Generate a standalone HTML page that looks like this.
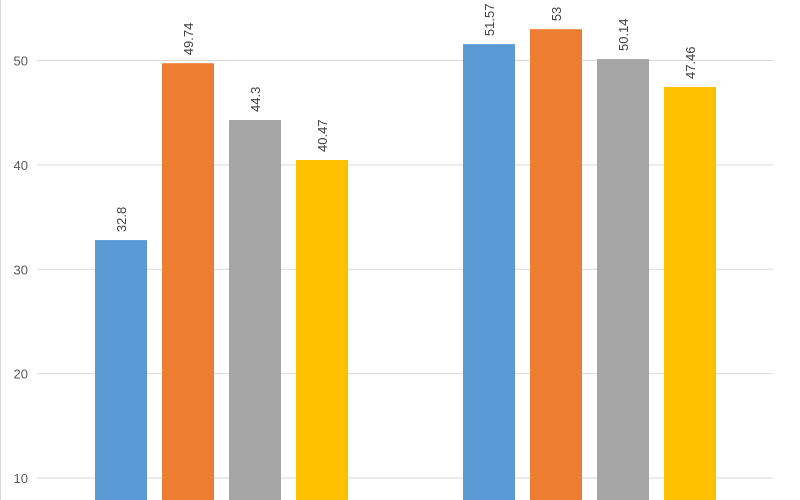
<!DOCTYPE html>
<html><head><meta charset="utf-8"><style>
html,body{margin:0;padding:0;background:#fff;}
svg{display:block;font-family:"Liberation Sans",sans-serif;}
</style></head><body>
<svg id="chart" width="800" height="500" viewBox="0 0 800 500">
<rect x="0.5" y="-2" width="810" height="510" fill="#fff" stroke="#d9d9d9"/>
<g id="grid"></g><g id="bars"></g><g id="labels"></g>
</svg>
<script>
const categories = ["Group A", "Group B"];
const seriesNames = ["Series 1", "Series 2", "Series 3", "Series 4"];
const series1 = [32.8, 51.57];
const series2 = [49.74, 53];
const series3 = [44.3, 50.14];
const series4 = [40.47, 47.46];
const tickValues = [10, 20, 30, 40, 50];
const colors = ["#5b9bd5", "#ed7d31", "#a5a5a5", "#ffc000"];
const allSeries = [series1, series2, series3, series4];
const NS = "http://www.w3.org/2000/svg";
function y(v){ return 60.5 + (50 - v) * 10.44; }
function groupX(i){ return 95 + i * 368; }
function barX(g, s){ return groupX(g) + s * 67; }
const grid = document.getElementById('grid');
tickValues.forEach(t => {
  const l = document.createElementNS(NS, 'line');
  
  
  l.setAttribute('x1', 37); l.setAttribute('x2', 773);
  l.setAttribute('y1', y(t)); l.setAttribute('y2', y(t));
  l.setAttribute('stroke', '#d9d9d9'); l.setAttribute('stroke-width', '1');
  grid.appendChild(l);
  const tx = document.createElementNS(NS, 'text');
  
  
  tx.setAttribute('x', 28); tx.setAttribute('y', y(t) + 5);
  tx.setAttribute('text-anchor', 'end'); tx.setAttribute('font-size', '13');
  tx.setAttribute('fill', '#595959');
  tx.textContent = t;
  grid.appendChild(tx);
});
const bars = document.getElementById('bars');
const labels = document.getElementById('labels');
categories.forEach((c, g) => {
  allSeries.forEach((s, si) => {
    const v = s[g];
    const r = document.createElementNS(NS, 'rect');
    
    
    r.setAttribute('x', barX(g, si)); r.setAttribute('width', 52);
    r.setAttribute('y', y(v)); r.setAttribute('height', 520 - y(v));
    r.setAttribute('fill', colors[si]);
    bars.appendChild(r);
    const cx = barX(g, si) + 26 + 5;
    const cy = y(v) - 8;
    const tx = document.createElementNS(NS, 'text');
    
    
    tx.setAttribute('x', cx); tx.setAttribute('y', cy);
    tx.setAttribute('transform', 'rotate(-90 ' + cx + ' ' + cy + ')');
    tx.setAttribute('font-size', '13'); tx.setAttribute('fill', '#404040');
    tx.textContent = v;
    labels.appendChild(tx);
  });
});
</script>
</body></html>
